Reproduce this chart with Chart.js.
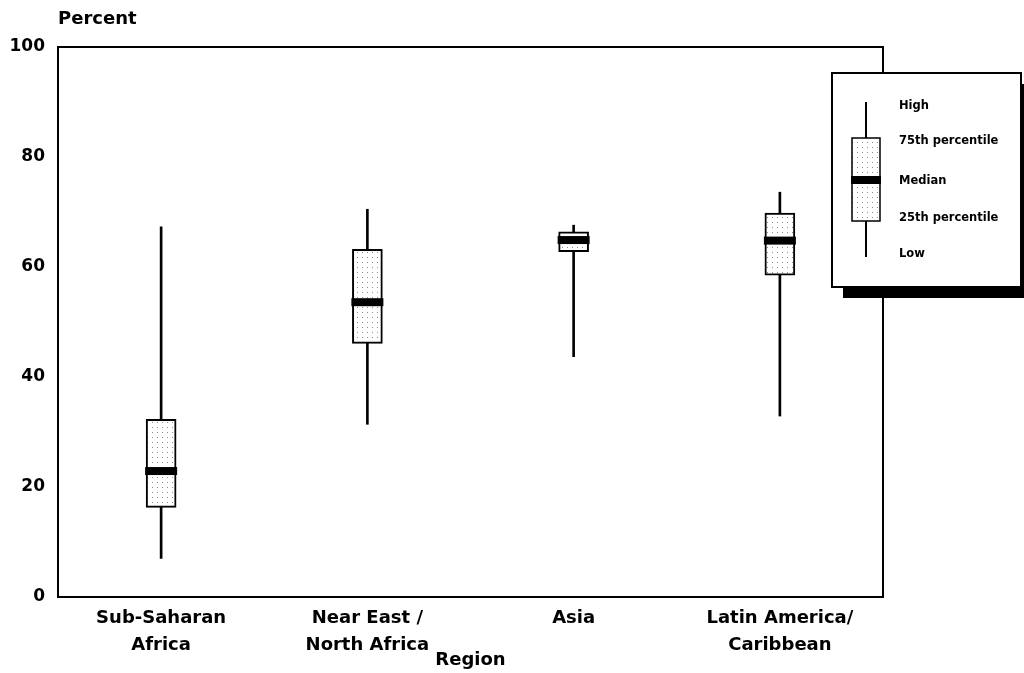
<!DOCTYPE html>
<html>
<head>
<meta charset="utf-8">
<script src="https://cdn.jsdelivr.net/npm/chart.js@4/dist/chart.umd.min.js"></script>
<style>
  body { margin: 0; background: #fff; }
  canvas { display: block; }
</style>
</head>
<body>
<canvas id="boxChart" width="1024" height="673"></canvas>
<script>
// values (percent)
const regions = [["Sub-Saharan", "Africa"], ["Near East /", "North Africa"], "Asia", ["Latin America/", "Caribbean"]];
const lows    = [7.0, 31.4, 43.7, 32.9];
const q1s     = [16.3, 46.1, 62.8, 58.5];
const medians = [22.9, 53.6, 64.9, 64.8];
const q3s     = [32.3, 63.2, 66.4, 69.8];
const highs   = [67.3, 70.5, 67.6, 73.6];
const yTicks  = [0, 20, 40, 60, 80, 100];
const legendLabels = ["High", "75th percentile", "Median", "25th percentile", "Low"];

const FONT = "'DejaVu Sans', sans-serif";

// stippled fill for the boxes
function dotPattern() {
  const pc = document.createElement("canvas");
  pc.width = 5; pc.height = 5;
  const p = pc.getContext("2d");
  p.fillStyle = "#fff";
  p.fillRect(0, 0, 5, 5);
  p.fillStyle = "#8a8a8a";
  p.fillRect(2, 2, 1, 1);
  return p.createPattern(pc, "repeat");
}
const stipple = dotPattern();

const boxData = q1s.map((q, i) => [q, q3s[i]]);
const whiskerData = lows.map((l, i) => [l, highs[i]]);

const extras = {
  id: "extras",
  afterDatasetsDraw(chart) {
    // median bands
    const ctx = chart.ctx;
    const meta = chart.getDatasetMeta(0);
    const y = chart.scales.y;
    ctx.save();
    ctx.fillStyle = "#000";
    meta.data.forEach((bar, i) => {
      const py = y.getPixelForValue(medians[i]);
      ctx.fillRect(bar.x - bar.width / 2 - 1, py - 4, bar.width + 2, 8);
    });
    ctx.restore();
  },
  afterDraw(chart) {
    const ctx = chart.ctx;
    const a = chart.chartArea;
    ctx.save();
    // frame
    ctx.strokeStyle = "#000";
    ctx.lineWidth = 2;
    ctx.strokeRect(a.left, a.top, a.right - a.left, a.bottom - a.top);

    // "Percent" heading
    ctx.fillStyle = "#000";
    ctx.font = "bold 18px " + FONT;
    ctx.textBaseline = "middle";
    ctx.textAlign = "left";
    ctx.fillText("Percent", a.left, 19);

    // legend box with shadow
    const lx = 832, ly = 73, lw = 189, lh = 214;
    ctx.fillStyle = "#000";
    ctx.fillRect(lx + 11, ly + 11, lw, lh);
    ctx.fillStyle = "#fff";
    ctx.fillRect(lx, ly, lw, lh);
    ctx.lineWidth = 2;
    ctx.strokeRect(lx, ly, lw, lh);

    // legend key
    const kx = 866;
    ctx.fillStyle = "#000";
    ctx.fillRect(kx - 1, 102, 2, 155);
    ctx.fillStyle = stipple;
    ctx.fillRect(852, 138, 28, 83);
    ctx.lineWidth = 1.5;
    ctx.strokeRect(852, 138, 28, 83);
    ctx.fillStyle = "#000";
    ctx.fillRect(851, 176, 30, 8);

    ctx.font = "bold 11.5px " + FONT;
    const ly2 = [106, 141, 181, 218, 254];
    legendLabels.forEach((t, i) => ctx.fillText(t, 899, ly2[i]));
    ctx.restore();
  }
};

new Chart(document.getElementById("boxChart"), {
  type: "bar",
  data: {
    labels: regions,
    datasets: [
      {
        label: "Interquartile range",
        data: boxData,
        backgroundColor: stipple,
        borderColor: "#000",
        borderWidth: 2,
        borderSkipped: false,
        barThickness: 30,
        grouped: false
      },
      {
        label: "Range",
        data: whiskerData,
        backgroundColor: "#000",
        borderWidth: 0,
        barThickness: 2,
        grouped: false
      }
    ]
  },
  options: {
    responsive: false,
    animation: false,
    layout: { padding: { left: 0, top: 47, right: 141, bottom: 0 } },
    plugins: { legend: { display: false }, tooltip: { enabled: false } },
    scales: {
      x: {
        grid: { display: false, drawTicks: false },
        border: { display: false },
        ticks: {
          color: "#000",
          padding: 8,
          maxRotation: 0,
          font: { family: FONT, size: 18, weight: "bold", lineHeight: 1.5 }
        },
        title: {
          display: true,
          text: "Region",
          color: "#000",
          padding: { top: 0, bottom: 2 },
          font: { family: FONT, size: 18, weight: "bold" }
        },
        afterFit(s) { s.height = 76; }
      },
      y: {
        min: 0,
        max: 100,
        grid: { display: false, drawTicks: false },
        border: { display: false },
        afterBuildTicks(s) { s.ticks = yTicks.map(v => ({ value: v })); },
        ticks: {
          color: "#000",
          padding: 13,
          font: { family: FONT, size: 17, weight: "bold" }
        },
        afterFit(s) { s.width = 58; }
      }
    }
  },
  plugins: [extras]
});
</script>
</body>
</html>
